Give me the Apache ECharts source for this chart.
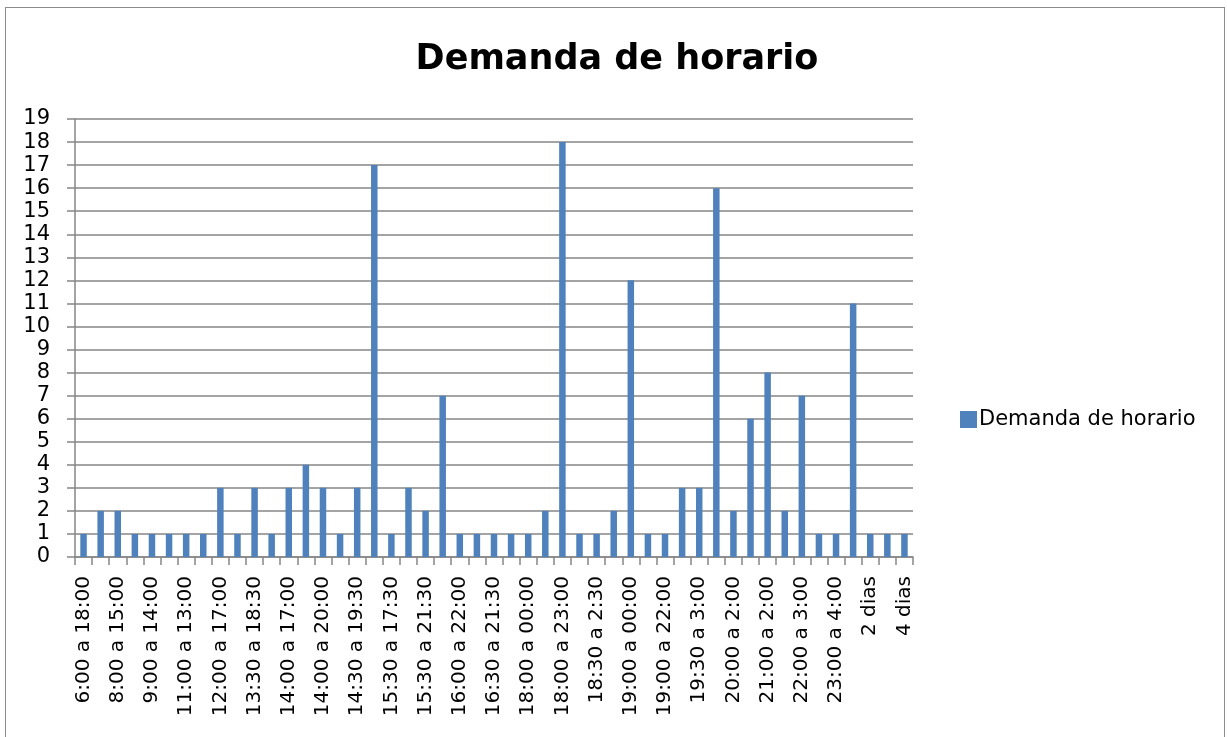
<!DOCTYPE html>
<html>
<head>
<meta charset="utf-8">
<script src="https://cdn.jsdelivr.net/npm/echarts@6/dist/echarts.min.js"></script>
<style>
  html, body { margin: 0; padding: 0; background: #fff; }
  #frame { position: absolute; left: 5px; top: 7px; width: 1220px; height: 740px; border: 1px solid #8c8c8c; box-sizing: border-box; }
  #chart { position: absolute; left: 0; top: 0; width: 1227px; height: 737px; }
</style>
</head>
<body>
<div id="frame"></div>
<div id="chart"></div>
<script>
// categorias (solo se ve una de cada dos en el eje)
const categories = [
  "6:00 a 18:00", "7:00 a 15:00", "8:00 a 15:00", "8:00 a 17:00", "9:00 a 14:00",
  "10:00 a 14:00", "11:00 a 13:00", "11:30 a 16:30", "12:00 a 17:00", "13:00 a 18:00",
  "13:30 a 18:30", "14:00 a 16:00", "14:00 a 17:00", "14:00 a 19:00", "14:00 a 20:00",
  "14:30 a 18:30", "14:30 a 19:30", "15:00 a 20:00", "15:30 a 17:30", "15:30 a 20:30",
  "15:30 a 21:30", "16:00 a 21:00", "16:00 a 22:00", "16:30 a 20:30", "16:30 a 21:30",
  "17:00 a 22:00", "18:00 a 00:00", "18:00 a 22:00", "18:00 a 23:00", "18:00 a 2:00",
  "18:30 a 2:30", "18:30 a 23:30", "19:00 a 00:00", "19:00 a 2:00", "19:00 a 22:00",
  "19:30 a 00:00", "19:30 a 3:00", "20:00 a 1:00", "20:00 a 2:00", "20:00 a 3:00",
  "21:00 a 2:00", "22:00 a 2:00", "22:00 a 3:00", "23:00 a 3:00", "23:00 a 4:00",
  "24 horas", "2 dias", "3 dias", "4 dias"
];
const demanda = [
  1, 2, 2, 1, 1, 1, 1, 1, 3, 1,
  3, 1, 3, 4, 3, 1, 3, 17, 1, 3,
  2, 7, 1, 1, 1, 1, 1, 2, 18, 1,
  1, 2, 12, 1, 1, 3, 3, 16, 2, 6,
  8, 2, 7, 1, 1, 11, 1, 1, 1
];
const seriesName = "Demanda de horario";
const yMax = 19;

const font = "DejaVu Sans";
const chart = echarts.init(document.getElementById("chart"));
chart.setOption({
  animation: false,
  title: {
    text: "Demanda de horario",
    left: 612,
    textAlign: "center",
    top: 37,
    textStyle: { fontFamily: font, fontSize: 35, fontWeight: "bold", color: "#000" }
  },
  legend: {
    data: [seriesName],
    left: 955,
    top: 404,
    icon: "rect",
    itemWidth: 17,
    itemHeight: 17,
    itemGap: 6,
    textStyle: { fontFamily: font, fontSize: 21, color: "#000", padding: [0, 0, 0, -3] }
  },
  grid: { left: 75, right: 314, top: 119, bottom: 180, containLabel: false },
  xAxis: {
    type: "category",
    data: categories,
    axisLine: { lineStyle: { color: "#868686", width: 1.5 } },
    axisTick: { show: true, interval: 0, length: 8, alignWithLabel: false, lineStyle: { color: "#868686", width: 1.5 } },
    axisLabel: { interval: 1, rotate: 90, margin: 19, fontFamily: font, fontSize: 20, color: "#000" },
    splitLine: { show: false }
  },
  yAxis: {
    type: "value",
    min: 0,
    max: yMax,
    interval: 1,
    axisLine: { show: true, lineStyle: { color: "#868686", width: 1.5 } },
    axisTick: { show: true, length: 8, lineStyle: { color: "#868686", width: 1.5 } },
    axisLabel: { margin: 25, fontFamily: font, fontSize: 21, color: "#000" },
    splitLine: { lineStyle: { color: "#868686", width: 1.5 } }
  },
  series: [{
    name: seriesName,
    type: "bar",
    data: demanda,
    barCategoryGap: "62%",
    itemStyle: { color: "#4F81BD" }
  }]
});
</script>
</body>
</html>
